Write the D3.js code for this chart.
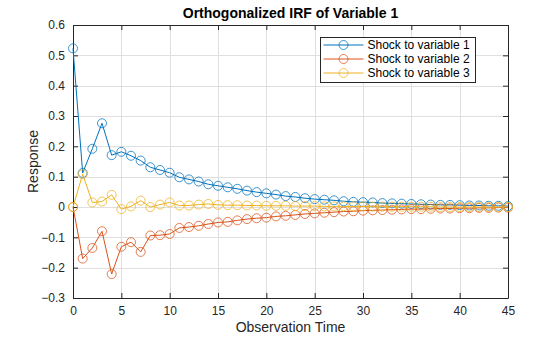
<!DOCTYPE html>
<html>
<head>
<meta charset="utf-8">
<script src="https://cdn.jsdelivr.net/npm/d3@7"></script>
<style>
  body { margin: 0; background: #fff; }
  svg { font-family: "Liberation Sans", Arial, sans-serif; }
</style>
</head>
<body>
<div id="chart"></div>
<script>
// impulse responses, one value per observation step 0..45
var steps = d3.range(0, 46);

var shock1 = [0.523, 0.112, 0.192, 0.276, 0.171, 0.182, 0.169, 0.153, 0.131, 0.122,
    0.113, 0.098, 0.091, 0.084, 0.075, 0.070, 0.065, 0.060, 0.054, 0.049,
    0.045, 0.041, 0.036, 0.033, 0.029, 0.026, 0.024, 0.022, 0.019, 0.017,
    0.016, 0.015, 0.013, 0.012, 0.011, 0.010, 0.009, 0.008, 0.007, 0.007,
    0.006, 0.005, 0.005, 0.004, 0.004, 0.003];

var shock2 = [0.000, -0.170, -0.135, -0.080, -0.221, -0.131, -0.116, -0.148, -0.094, -0.093,
    -0.089, -0.069, -0.066, -0.062, -0.056, -0.051, -0.049, -0.044, -0.040, -0.037,
    -0.035, -0.031, -0.029, -0.026, -0.023, -0.021, -0.019, -0.017, -0.015, -0.014,
    -0.012, -0.011, -0.010, -0.009, -0.008, -0.007, -0.007, -0.006, -0.005, -0.005,
    -0.004, -0.004, -0.003, -0.003, -0.002, -0.002];

var shock3 = [0.000, 0.108, 0.015, 0.018, 0.040, -0.007, 0.002, 0.021, 0.000, 0.008,
    0.015, 0.005, 0.005, 0.008, 0.010, 0.007, 0.006, 0.006, 0.005, 0.005,
    0.004, 0.004, 0.004, 0.003, 0.003, 0.003, 0.002, 0.002, 0.002, 0.002,
    0.002, 0.001, 0.001, 0.001, 0.001, 0.001, 0.001, 0.001, 0.000, 0.000,
    0.000, 0.000, 0.000, 0.000, 0.000, 0.000];

var seriesNames = ["Shock to variable 1", "Shock to variable 2", "Shock to variable 3"];
var xTicks = d3.range(0, 46, 5);
var yTicks = [-0.3, -0.2, -0.1, 0, 0.1, 0.2, 0.3, 0.4, 0.5, 0.6];

var colours = ["#0072BD", "#D95319", "#EDB120"];
var series = [shock1, shock2, shock3];

var svgWidth = 560, svgHeight = 337;
var margin = { left: 73, right: 52, top: 25, bottom: 39 };
var width = svgWidth - margin.left - margin.right;
var height = svgHeight - margin.top - margin.bottom;
var axisColour = "#262626";

var svg = d3.select("#chart").append("svg")
    .attr("width", svgWidth)
    .attr("height", svgHeight);

var grp = svg.append("g")
    .attr("transform", "translate(" + margin.left + "," + margin.top + ")");

var x = d3.scaleLinear().domain([0, 45]).range([0, width]);
var y = d3.scaleLinear().domain([-0.3, 0.6]).range([height, 0]);

// grid
grp.append("g").selectAll("line.vx").data(xTicks).enter().append("line")
    .attr("x1", function (d) { return Math.round(x(d)) + 0.5; })
    .attr("x2", function (d) { return Math.round(x(d)) + 0.5; })
    .attr("y1", 0).attr("y2", height)
    .style("stroke", "#dfdfdf").style("stroke-width", 1);
grp.append("g").selectAll("line.hy").data(yTicks).enter().append("line")
    .attr("y1", function (d) { return Math.round(y(d)) + 0.5; })
    .attr("y2", function (d) { return Math.round(y(d)) + 0.5; })
    .attr("x1", 0).attr("x2", width)
    .style("stroke", "#dfdfdf").style("stroke-width", 1);

// axes, ticks pointing inward on all four sides
var fmtY = function (d) { return d === 0 ? "0" : d3.format(".1f")(d); };
var bottomAxis = d3.axisBottom(x).tickValues(xTicks).tickSizeInner(-5).tickSizeOuter(0).tickPadding(8);
var topAxis = d3.axisTop(x).tickValues(xTicks).tickSizeInner(-5).tickSizeOuter(0).tickFormat("");
var leftAxis = d3.axisLeft(y).tickValues(yTicks).tickSizeInner(-5).tickSizeOuter(0).tickPadding(8).tickFormat(fmtY);
var rightAxis = d3.axisRight(y).tickValues(yTicks).tickSizeInner(-5).tickSizeOuter(0).tickFormat("");

function styleAxis(g) {
    g.selectAll("path, line").style("stroke", axisColour);
    g.selectAll("text").style("fill", axisColour).style("font-size", "12px")
        .style("font-family", "'Liberation Sans', Arial, sans-serif");
}

grp.append("g").attr("transform", "translate(0," + height + ")").call(bottomAxis).call(styleAxis);
grp.append("g").call(topAxis).call(styleAxis);
grp.append("g").call(leftAxis).call(styleAxis);
grp.append("g").attr("transform", "translate(" + width + ",0)").call(rightAxis).call(styleAxis);

// lines and open circle markers
var lineGen = d3.line()
    .x(function (d, i) { return x(steps[i]); })
    .y(function (d) { return y(d); });

series.forEach(function (vals, k) {
    grp.append("path")
        .datum(vals)
        .attr("d", lineGen)
        .style("fill", "none")
        .style("stroke", colours[k])
        .style("stroke-width", 1);

    grp.append("g").selectAll("circle").data(vals).enter().append("circle")
        .attr("cx", function (d, i) { return x(steps[i]); })
        .attr("cy", function (d) { return y(d); })
        .attr("r", 4.5)
        .style("fill", "none")
        .style("stroke", colours[k])
        .style("stroke-opacity", 0.75)
        .style("stroke-width", 1);
});

// title and axis labels
svg.append("text")
    .attr("x", margin.left + width / 2).attr("y", 18)
    .attr("text-anchor", "middle")
    .style("font-size", "14px").style("font-weight", "bold").style("fill", "#000")
    .text("Orthogonalized IRF of Variable 1");

svg.append("text")
    .attr("x", margin.left + width / 2).attr("y", 332)
    .attr("text-anchor", "middle")
    .style("font-size", "14px").style("fill", axisColour)
    .text("Observation Time");

svg.append("text")
    .attr("transform", "translate(38," + (margin.top + height / 2) + ") rotate(-90)")
    .attr("text-anchor", "middle")
    .style("font-size", "14px").style("fill", axisColour)
    .text("Response");

// legend
var legend = svg.append("g").attr("transform", "translate(320.5,37.5)");
legend.append("rect")
    .attr("width", 155).attr("height", 45)
    .style("fill", "#fff").style("stroke", axisColour).style("stroke-width", 1);

seriesNames.forEach(function (name, k) {
    var ly = 7.5 + k * 14;
    legend.append("line")
        .attr("x1", 3).attr("x2", 43).attr("y1", ly).attr("y2", ly)
        .style("stroke", colours[k]).style("stroke-width", 1);
    legend.append("circle")
        .attr("cx", 23).attr("cy", ly).attr("r", 4.5)
        .style("fill", "none").style("stroke", colours[k])
        .style("stroke-opacity", 0.75).style("stroke-width", 1);
    legend.append("text")
        .attr("x", 47).attr("y", ly + 4)
        .style("font-size", "12px").style("fill", "#000")
        .text(name);
});
</script>
</body>
</html>
